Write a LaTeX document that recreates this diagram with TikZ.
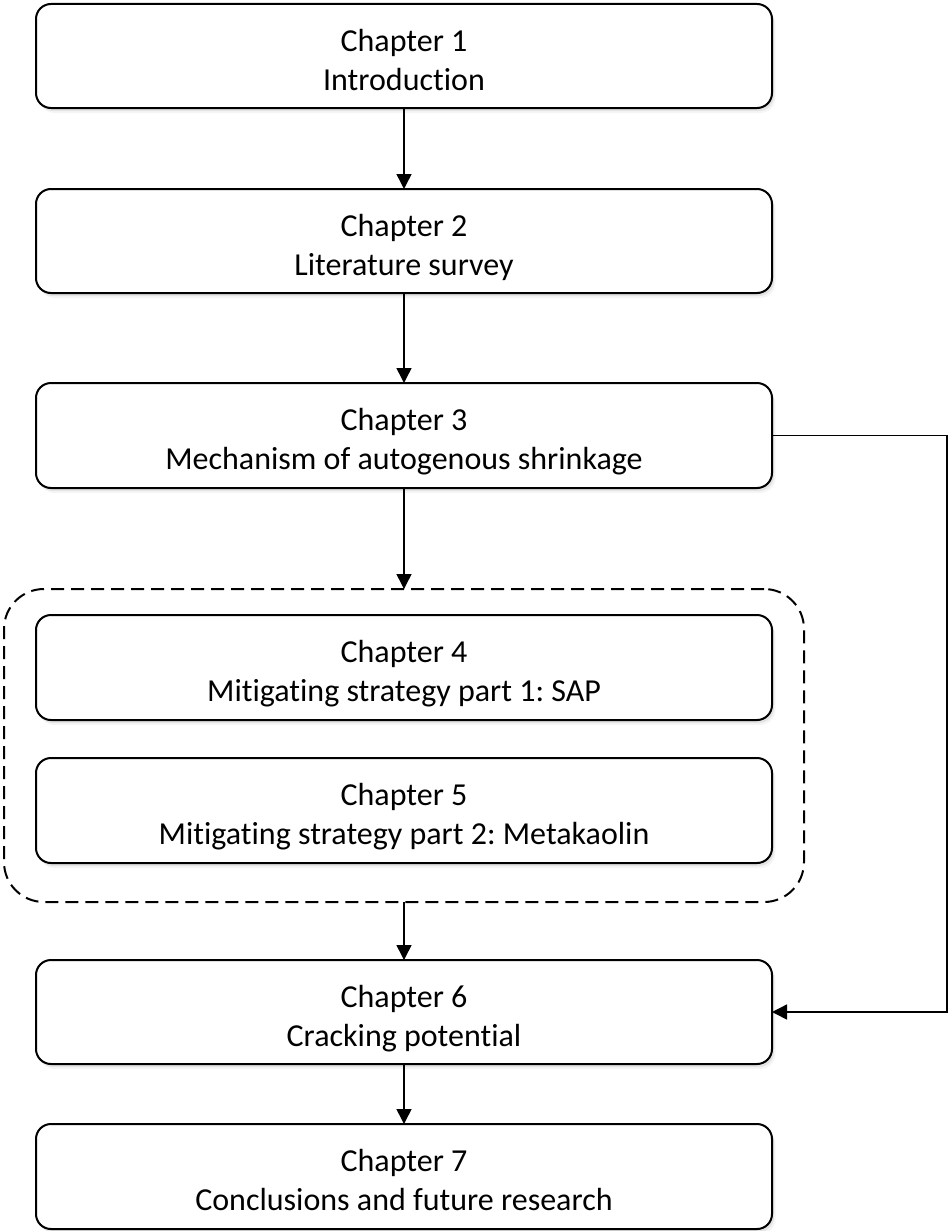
\documentclass[tikz,border=0pt]{standalone}
\usepackage{fontspec}
\setmainfont[Ligatures=NoCommon]{Carlito}
\frenchspacing
\usetikzlibrary{arrows.meta,shadows}
\tikzset{
  chapbox/.style={draw=black, line width=2pt, rounded corners=15pt, fill=white,
    minimum width=736pt, inner sep=0pt, outer sep=0pt,
    drop shadow={shadow xshift=3.5pt, shadow yshift=-5pt, opacity=0.08},
    drop shadow={shadow xshift=2pt, shadow yshift=-3pt, opacity=0.15}},
  chaptxt/.style={anchor=base, align=center, inner sep=0pt, font=\fontsize{32}{39}\selectfont},
  groupbox/.style={draw=black, line width=2pt, dash pattern=on 13pt off 7pt, rounded corners=40pt,
    minimum width=800pt, minimum height=313pt, inner sep=0pt, outer sep=0pt},
  conn/.style={line width=1.5pt, -{Triangle[length=15pt,width=15pt]}}
}
\begin{document}
\begin{tikzpicture}[x=1pt,y=-1pt]
\useasboundingbox (0,0) rectangle (948,1231);
\node[groupbox] (grp) at (404,745.5) {};
\node[chapbox, minimum height=104pt] (b1) at (404,56) {};
\node[chapbox, minimum height=104pt] (b2) at (404,241) {};
\node[chapbox, minimum height=105pt] (b3) at (404,435.5) {};
\node[chapbox, minimum height=105pt] (b4) at (404,667.5) {};
\node[chapbox, minimum height=105pt] (b5) at (404,810.5) {};
\node[chapbox, minimum height=104pt] (b6) at (404,1012) {};
\node[chapbox, minimum height=105pt] (b7) at (404,1176.5) {};
\node[chaptxt] (t1) at ([yshift=-34pt]b1.center) {Chapter 1\\Introduction};
\node[chaptxt] (t2) at ([yshift=-34pt]b2.center) {Chapter 2\\Literature survey};
\node[chaptxt] (t3) at ([yshift=-34pt]b3.center) {Chapter 3\\Mechanism of autogenous shrinkage};
\node[chaptxt] (t4) at ([yshift=-34pt]b4.center) {Chapter 4\\Mitigating strategy part 1: SAP};
\node[chaptxt] (t5) at ([yshift=-34pt]b5.center) {Chapter 5\\Mitigating strategy part 2: Metakaolin};
\node[chaptxt] (t6) at ([yshift=-34pt]b6.center) {Chapter 6\\Cracking potential};
\node[chaptxt] (t7) at ([yshift=-34pt]b7.center) {Chapter 7\\Conclusions and future research};
\draw[conn] (b1.south) -- (b2.north);
\draw[conn] (b2.south) -- (b3.north);
\draw[conn] (b3.south) -- (grp.north);
\draw[conn] (grp.south) -- (b6.north);
\draw[conn] (b6.south) -- (b7.north);
\coordinate (r1) at (947,435.5);
\coordinate (r2) at (947,1012);
\draw[conn] (b3.east) -- (r1) -- (r2) -- (b6.east);
\end{tikzpicture}
\end{document}
